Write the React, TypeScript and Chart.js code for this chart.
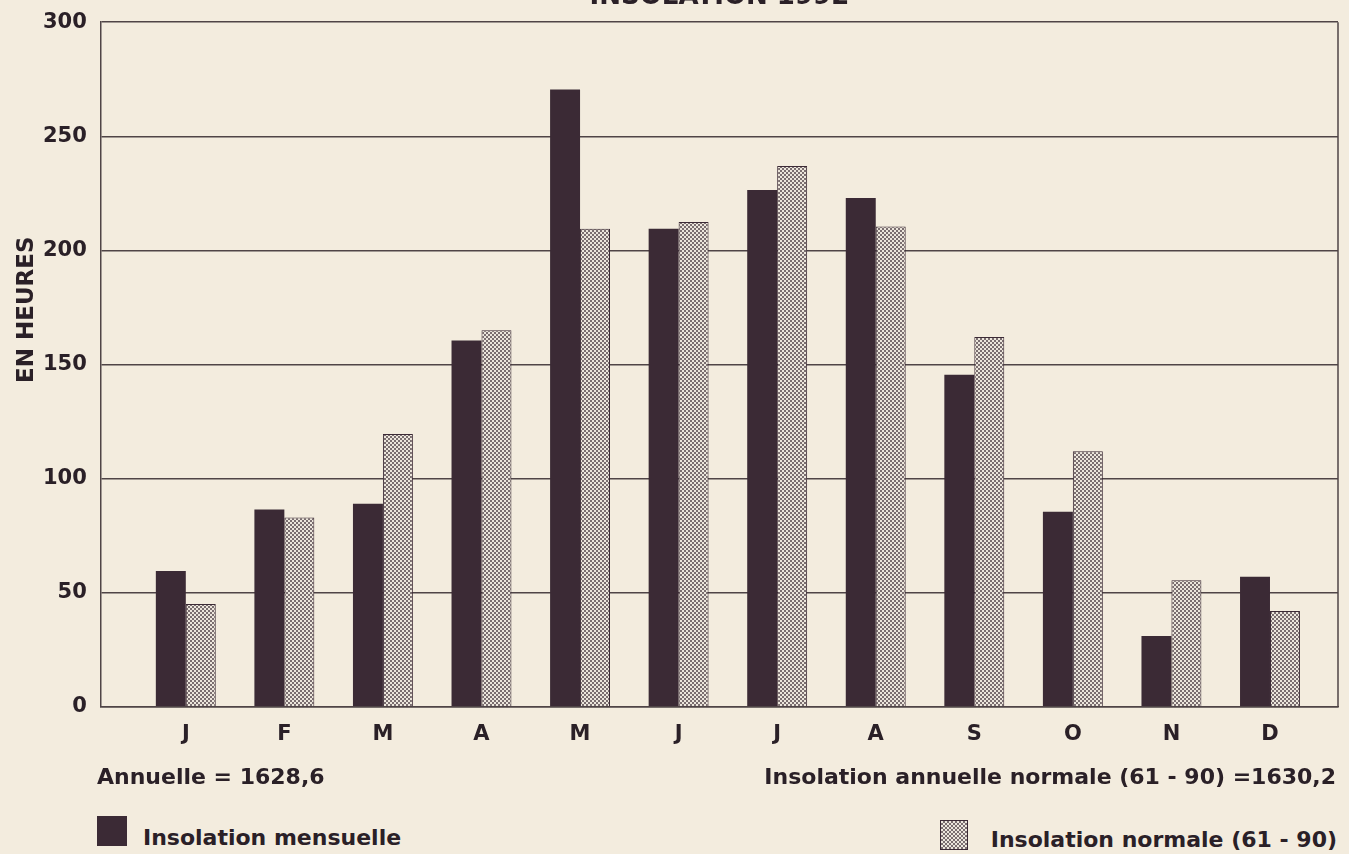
import React, { useEffect, useRef } from "react";
import { Chart, registerables } from "chart.js";

Chart.register(...registerables);

// ---- data ----
const MONTHS = ["J", "F", "M", "A", "M", "J", "J", "A", "S", "O", "N", "D"];
const MONTH_POS = [1, 2, 3, 4, 5, 6, 7, 8, 9, 10, 11, 12];
const INSOLATION_MENSUELLE = [59.5, 86.5, 89, 160.5, 270.5, 209.5, 226.5, 223, 145.5, 85.5, 31, 57];
const INSOLATION_NORMALE = [45, 83, 119.5, 165, 209.5, 212.5, 237, 210.5, 162, 112, 55.5, 42];
const Y_TICKS = [0, 50, 100, 150, 200, 250, 300];
const TITLE = "INSOLATION 1992";
const Y_TITLE = "EN HEURES";
const LABEL_MENSUELLE = "Insolation mensuelle";
const LABEL_NORMALE = "Insolation normale (61 - 90)";
const NOTE_LEFT = "Annuelle = 1628,6";
const NOTE_RIGHT = "Insolation annuelle normale (61 - 90) =1630,2";

// ---- style ----
const BG = "#f3ecde";
const INK = "#2a2027";
const DARK_BAR = "#3b2a35";
const GRID = "#4f4446";
const DOT = "#7a6e70";
const LIGHT = "#ece6dc";
const FONT = "'DejaVu Sans', sans-serif";

export default function App() {
  const ref = useRef<HTMLCanvasElement | null>(null);

  useEffect(() => {
    const canvas = ref.current;
    if (!canvas) return;
    const ctx = canvas.getContext("2d")!;
    const pc = document.createElement("canvas");
    pc.width = 4;
    pc.height = 4;
    const p = pc.getContext("2d")!;
    p.fillStyle = LIGHT;
    p.fillRect(0, 0, 4, 4);
    p.fillStyle = DOT;
    p.fillRect(0, 0, 2, 2);
    p.fillRect(2, 2, 2, 2);
    const pattern = ctx.createPattern(pc, "repeat")!;

    const framePlugin = {
      id: "frameAndYTitle",
      afterDatasetsDraw(chart: any) {
        const { ctx: c, chartArea: a } = chart;
        c.save();
        c.strokeStyle = GRID;
        c.lineWidth = 1.5;
        c.beginPath();
        c.moveTo(a.right, a.top);
        c.lineTo(a.right, a.bottom);
        c.stroke();
        c.translate(27, a.top + 0.42 * (a.bottom - a.top));
        c.rotate(-Math.PI / 2);
        c.fillStyle = INK;
        c.font = `bold 23px ${FONT}`;
        c.textAlign = "center";
        c.textBaseline = "middle";
        c.fillText(Y_TITLE, 0, 0);
        c.restore();
      },
    };

    const chart = new Chart(ctx, {
      type: "bar",
      data: {
        datasets: [
          {
            label: LABEL_MENSUELLE,
            data: MONTH_POS.map((x, i) => ({ x, y: INSOLATION_MENSUELLE[i] })),
            backgroundColor: DARK_BAR,
            borderColor: DARK_BAR,
            borderWidth: 0,
            categoryPercentage: 0.608,
            barPercentage: 1,
          },
          {
            label: LABEL_NORMALE,
            data: MONTH_POS.map((x, i) => ({ x, y: INSOLATION_NORMALE[i] })),
            backgroundColor: pattern as any,
            borderColor: DARK_BAR,
            borderWidth: 1,
            categoryPercentage: 0.608,
            barPercentage: 1,
          },
        ],
      },
      options: {
        animation: false,
        responsive: false,
        maintainAspectRatio: false,
        layout: { padding: { top: 0, left: 29, right: 11, bottom: 12 } },
        plugins: {
          legend: { display: false },
          tooltip: { enabled: false },
          title: {
            display: true,
            text: TITLE,
            fullSize: false,
            color: INK,
            font: { family: FONT, size: 26, weight: "bold" },
            padding: { top: 0, bottom: 9 },
          },
        },
        scales: {
          x: {
            type: "linear",
            min: 0.138,
            max: 12.69,
            offset: false,
            afterBuildTicks: (scale: any) => {
              scale.ticks = MONTH_POS.map((v) => ({ value: v }));
            },
            ticks: {
              autoSkip: false,
              maxRotation: 0,
              padding: 15,
              color: INK,
              font: { family: FONT, size: 21, weight: "bold" },
              callback: (v: any) => MONTHS[Number(v) - 1] ?? "",
            },
            grid: { display: false, drawTicks: false },
            border: { display: true, color: GRID, width: 1.5 },
          },
          y: {
            min: 0,
            max: 300,
            afterBuildTicks: (scale: any) => {
              scale.ticks = Y_TICKS.map((v) => ({ value: v }));
            },
            ticks: {
              padding: 14,
              color: INK,
              font: { family: FONT, size: 21, weight: "bold" },
            },
            grid: { color: GRID, lineWidth: 1.5, drawTicks: false },
            border: { display: true, color: GRID, width: 1.5 },
          },
        },
      },
      plugins: [framePlugin],
    } as any);

    return () => chart.destroy();
  }, []);

  const textBase: React.CSSProperties = {
    position: "absolute",
    fontFamily: FONT,
    fontWeight: "bold",
    color: INK,
    lineHeight: 1,
    whiteSpace: "nowrap",
  };

  return (
    <div
      style={{
        position: "fixed",
        left: 0,
        top: 0,
        width: 1349,
        height: 854,
        background: BG,
        overflow: "hidden",
      }}
    >
      <canvas
        ref={ref}
        width={1349}
        height={792}
        style={{ position: "absolute", left: 0, top: -18, width: 1349, height: 792 }}
      />
      <div style={{ ...textBase, left: 97, top: 766, fontSize: 22 }}>{NOTE_LEFT}</div>
      <div style={{ ...textBase, right: 13, top: 766, fontSize: 22, textAlign: "right" }}>{NOTE_RIGHT}</div>
      <div style={{ position: "absolute", left: 97, top: 816, width: 30, height: 30, background: DARK_BAR }} />
      <div style={{ ...textBase, left: 143, top: 827, fontSize: 22 }}>{LABEL_MENSUELLE}</div>
      <div
        style={{
          position: "absolute",
          left: 940,
          top: 820,
          width: 26,
          height: 28,
          border: `1px solid ${DARK_BAR}`,
          background: `repeating-conic-gradient(${DOT} 0 25%, ${LIGHT} 0 50%) 0 0 / 4px 4px`,
        }}
      />
      <div style={{ ...textBase, right: 12, top: 829, fontSize: 22, textAlign: "right" }}>{LABEL_NORMALE}</div>
    </div>
  );
}
